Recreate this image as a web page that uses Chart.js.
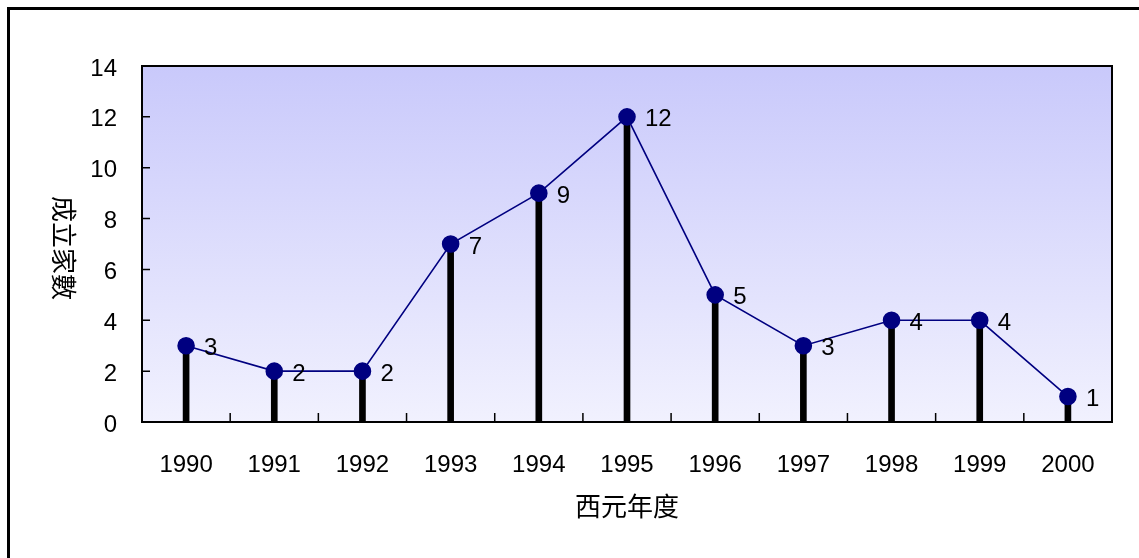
<!DOCTYPE html>
<html>
<head>
<meta charset="utf-8">
<script src="https://cdn.jsdelivr.net/npm/chart.js@4.4.0/dist/chart.umd.min.js"></script>
<style>
  body { margin: 0; background: #fff; }
  canvas { display: block; }
</style>
</head>
<body>
<canvas id="chart" width="1139" height="558"></canvas>
<script>
const years = ['1990', '1991', '1992', '1993', '1994', '1995', '1996', '1997', '1998', '1999', '2000'];
const counts = [3, 2, 2, 7, 9, 12, 5, 3, 4, 4, 1];
const yTicks = [0, 2, 4, 6, 8, 10, 12, 14];
const xTitle = '西元年度';
const yTitle = '成立家數';

const numFont = '24px "Liberation Sans", Arial, sans-serif';
const cjkFont = '26px "Noto Sans CJK TC", "Noto Sans CJK SC", sans-serif';

// background gradient, frame, inside ticks, titles, value labels
const decor = {
  id: 'decor',
  beforeDatasetsDraw(chart) {
    const { ctx, chartArea: a } = chart;
    const g = ctx.createLinearGradient(0, a.top, 0, a.bottom);
    g.addColorStop(0, '#c9c9fb');
    g.addColorStop(1, '#f1f1fe');
    ctx.save();
    ctx.fillStyle = g;
    ctx.fillRect(a.left, a.top, a.right - a.left, a.bottom - a.top);
    ctx.restore();
  },
  afterDatasetsDraw(chart) {
    const { ctx, chartArea: a, scales } = chart;
    const xs = scales.x, ys = scales.y;
    ctx.save();
    ctx.strokeStyle = '#000';
    ctx.lineWidth = 2;
    ctx.strokeRect(a.left, a.top, a.right - a.left, a.bottom - a.top);

    ctx.lineWidth = 1.5;
    ctx.beginPath();
    yTicks.forEach(v => {
      const y = ys.getPixelForValue(v);
      ctx.moveTo(a.left, y);
      ctx.lineTo(a.left + 8, y);
    });
    for (let i = 0; i <= years.length; i++) {
      const x = xs.getPixelForValue(i - 0.5);
      ctx.moveTo(x, a.bottom);
      ctx.lineTo(x, a.bottom - 9);
    }
    ctx.stroke();

    // value labels
    ctx.fillStyle = '#000';
    ctx.font = numFont;
    ctx.textAlign = 'left';
    ctx.textBaseline = 'middle';
    counts.forEach((v, i) => {
      const x = xs.getPixelForValue(i);
      const y = ys.getPixelForValue(v);
      ctx.fillText(String(v), x + 18, y + 3);
    });

    // axis titles
    ctx.font = cjkFont;
    ctx.textAlign = 'center';
    ctx.fillText(xTitle, (a.left + a.right) / 2, 506);
    ctx.translate(64, (a.top + a.bottom) / 2 + 4);
    ctx.rotate(Math.PI / 2);
    ctx.fillText(yTitle, 0, 0);
    ctx.restore();

    // outer frame (left and top edges)
    ctx.save();
    ctx.strokeStyle = '#000';
    ctx.lineWidth = 3;
    ctx.beginPath();
    ctx.moveTo(8.5, chart.height);
    ctx.lineTo(8.5, 8.5);
    ctx.lineTo(chart.width, 8.5);
    ctx.stroke();
    ctx.restore();
  }
};

new Chart(document.getElementById('chart'), {
  data: {
    labels: years,
    datasets: [
      {
        type: 'line',
        data: counts,
        borderColor: '#000080',
        borderWidth: 1.6,
        pointBackgroundColor: '#000080',
        pointBorderColor: '#000080',
        pointRadius: 8,
        order: 0
      },
      {
        type: 'bar',
        data: counts,
        backgroundColor: '#000',
        barThickness: 6,
        order: 1
      }
    ]
  },
  options: {
    responsive: false,
    animation: false,
    devicePixelRatio: 1,
    layout: { padding: { top: 66, right: 27, left: 0, bottom: 0 } },
    plugins: { legend: { display: false }, tooltip: { enabled: false } },
    scales: {
      x: {
        type: 'category',
        offset: true,
        grid: { display: false, drawTicks: false },
        border: { display: false },
        ticks: { color: '#000', font: { family: '"Liberation Sans", Arial', size: 24 }, padding: 29, maxRotation: 0 },
        afterFit(s) { s.height = 136; }
      },
      y: {
        min: 0,
        max: 14,
        grid: { display: false, drawTicks: false },
        border: { display: false },
        ticks: { stepSize: 2, color: '#000', font: { family: '"Liberation Sans", Arial', size: 24 }, padding: 25, labelOffset: 3 },
        afterFit(s) { s.width = 142; }
      }
    }
  },
  plugins: [decor]
});
</script>
</body>
</html>
